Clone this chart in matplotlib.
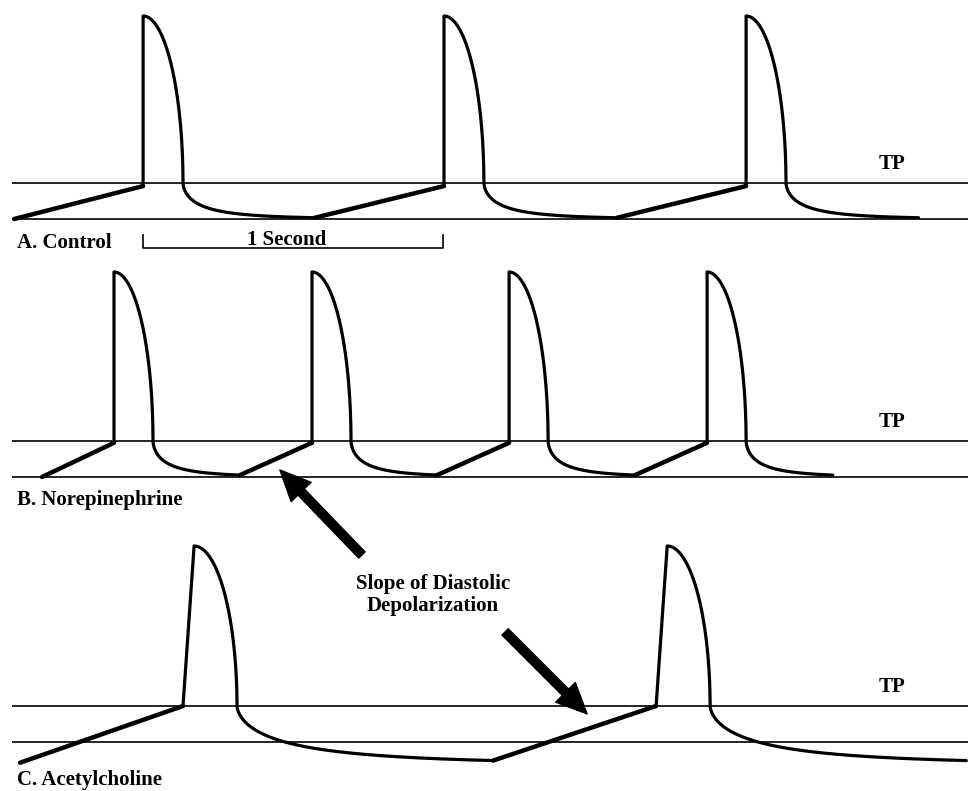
import numpy as np
import matplotlib
matplotlib.use("Agg")
import matplotlib.pyplot as plt

plt.rcParams['font.family'] = ['Liberation Serif', 'DejaVu Serif']

"""
Pacemaker potentials read off the figure:
time in seconds, membrane potential in mV
"""
tp_mv = -40.0
mdp_mv = -60.0

panel_labels = ["A. Control", "B. Norepinephrine", "C. Acetylcholine"]
spike_times = [
    [0.477, 1.480, 2.487],
    [0.380, 1.040, 1.697, 2.357],
    [0.610, 2.187],
]
peak_mv = [52.8, 53.9, 48.9]
min_mv = [-60.0, -60.0, -72.5]
first_ramp_mv = [-60.0, -60.0, -71.5]
ramp_top_mv = [-41.7, -41.0, -40.0]
ramp_dur = [0.43, 0.24, 0.543]
upstroke_dur = [0.0, 0.0, 0.037]
repol_dur = [0.133, 0.13, 0.143]
tail_tau = [0.063, 0.051, 0.172]

scale_bar = [0.477, 1.0]  # start, length (s)
arrow_tips = [(0.933, -56.1), (1.957, -44.4)]

# layout (pixels): top, bottom, row of the TP line
W, H = 968, 791
px_per_s = 300.0
px_per_mv = 1.8
panel_rows = [(0, 262, 183), (262, 525, 441), (525, 791, 706)]

fig = plt.figure(figsize=(W / 100, H / 100), dpi=100)
fig.patch.set_facecolor('white')

font = dict(fontsize=15, fontweight='bold', color='black')
axes = []
for i, (top, bot, tp_px) in enumerate(panel_rows):
    ax = fig.add_axes([0, 1 - bot / H, 1, (bot - top) / H])
    ax.set_xlim(0, W / px_per_s)
    ax.set_ylim(tp_mv - (bot - tp_px) / px_per_mv, tp_mv + (tp_px - top) / px_per_mv)
    ax.axis('off')
    ax.patch.set_visible(False)
    axes.append(ax)

    # threshold and maximum diastolic potential
    ax.hlines([tp_mv, mdp_mv], 0.04, W / px_per_s, color='black', lw=1.2)

    sp = spike_times[i]
    period = np.mean(np.diff(sp))
    prev_y = first_ramp_mv[i]
    for ts in sp:
        # diastolic depolarization
        ax.plot([ts - ramp_dur[i], ts], [prev_y, ramp_top_mv[i]], color='black',
                lw=3.2, solid_capstyle='round')
        # upstroke + repolarization (rounded like a quarter ellipse)
        th = np.linspace(np.pi / 2, 0, 120)
        t_peak = ts + upstroke_dur[i]
        x_rep = t_peak + repol_dur[i] * np.cos(th)
        y_rep = tp_mv + (peak_mv[i] - tp_mv) * np.sin(th)
        t0 = t_peak + repol_dur[i]
        t_end = ts + period - ramp_dur[i]
        s = (t_end - t0) * np.linspace(0, 1, 400) ** 3
        y_tail = min_mv[i] + (tp_mv - min_mv[i]) * np.exp(-(s / tail_tau[i]) ** 0.62)
        x = np.concatenate([[ts], x_rep, t0 + s])
        y = np.concatenate([[ramp_top_mv[i]], y_rep, y_tail])
        ax.plot(x, y, color='black', lw=2.3, solid_joinstyle='round',
                solid_capstyle='round')
        prev_y = y_tail[-1]

    ax.text(2.973, tp_mv + 10.5, "TP", ha='center', va='center', **font)

axes[0].text(0.057, -73.3, panel_labels[0], ha='left', va='center', **font)
axes[1].text(0.057, -72.8, panel_labels[1], ha='left', va='center', **font)
axes[2].text(0.057, -81.1, panel_labels[2], ha='left', va='center', **font)

# 1 second scale bar
x0, length = scale_bar
axes[0].plot([x0, x0, x0 + length, x0 + length], [-68.9, -76.1, -76.1, -68.9],
             color='black', lw=1.2)
axes[0].text(x0 + 0.48, -71.5, "1 Second", ha='center', va='center', **font)

axes[2].text(1.443, 21.7, "Slope of Diastolic\nDepolarization", ha='center',
             va='center', linespacing=1.15, **font)

arrow = dict(arrowstyle='simple,head_length=0.55,head_width=0.5,tail_width=0.16',
             mutation_scale=40, fc='black', ec='black', lw=1, shrinkA=0, shrinkB=0,
             joinstyle='round')
axes[1].annotate('', xy=arrow_tips[0], xytext=(82, -85), textcoords='offset pixels',
                 arrowprops=arrow, annotation_clip=False)
axes[2].annotate('', xy=arrow_tips[1], xytext=(-82, 82), textcoords='offset pixels',
                 arrowprops=arrow, annotation_clip=False)

fig.savefig("out.png", dpi=100, facecolor='white')
